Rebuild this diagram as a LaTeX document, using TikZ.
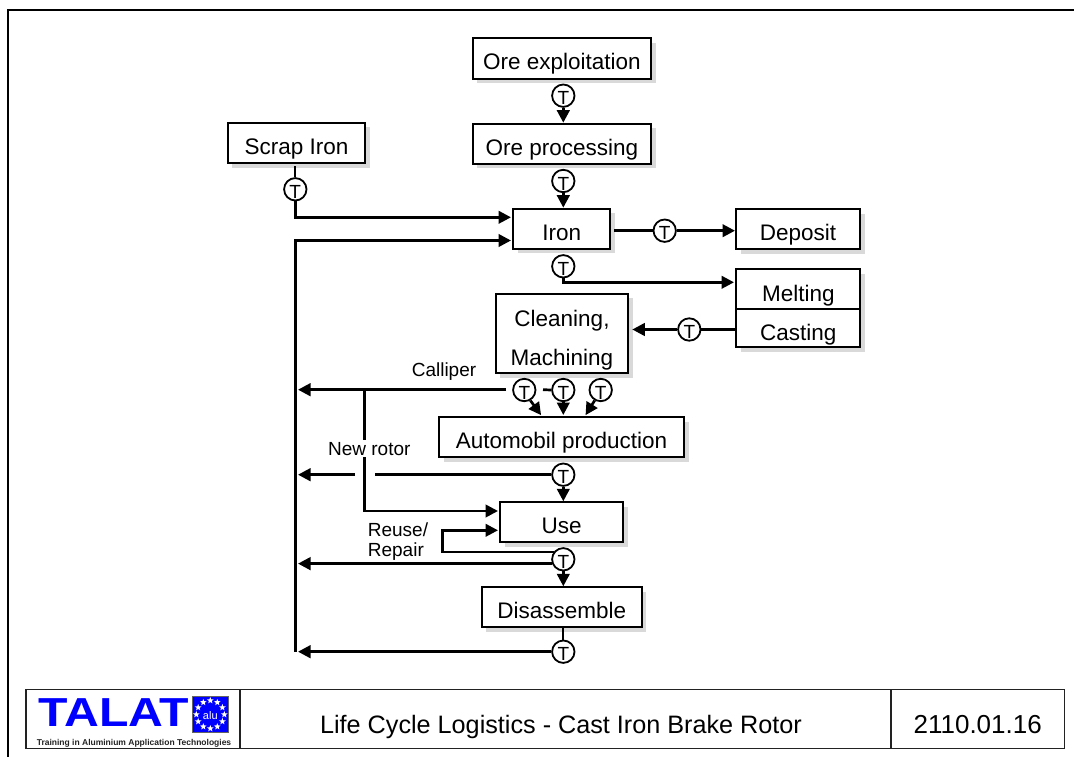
\documentclass[tikz,border=0pt]{standalone}
\usepackage{fontspec}
\usepackage{graphicx}
\setmainfont{Liberation Sans}
\usetikzlibrary{arrows.meta,shadows,shapes.geometric,calc}
\definecolor{shadowgrey}{HTML}{D9D9D9}
\definecolor{talatblue}{HTML}{0000FF}
\definecolor{footline}{HTML}{222222}
\tikzset{
  x=1pt,y=-1pt,
  stagebox/.style n args={2}{draw=black,fill=white,line width=2.2pt,inner sep=0pt,outer sep=0pt,
    minimum width=#1,minimum height=#2,
    font=\fontsize{22.5}{39}\selectfont,text height=23pt,text depth=0pt,
    drop shadow={shadow xshift=4.5pt,shadow yshift=-4.5pt,fill=shadowgrey,opacity=1}},
  transport/.style={circle,draw=black,fill=white,line width=1.8pt,inner sep=0pt,minimum size=22.4pt,
    font=\fontsize{19}{19}\selectfont,text height=18pt,text depth=0pt},
  flow/.style={line width=2.7pt,-{Triangle[length=12.5pt,width=12.5pt]},shorten >=1pt},
  plainflow/.style={line width=2.7pt},
  thinlink/.style={line width=2pt},
  sidelabel/.style={anchor=base,inner sep=0pt,font=\fontsize{19}{19}\selectfont},
  footcell/.style={draw=footline,line width=1.1pt,inner sep=0pt,outer sep=0pt,minimum height=59.3pt,
    text height=29.2pt,text depth=0pt},
  eustar/.style={star,star points=5,star point ratio=2.4,fill=white,inner sep=0pt,minimum size=7pt},
}
\begin{document}
\begin{tikzpicture}
\useasboundingbox (0,0) rectangle (1074,757);
% page frame
\coordinate (frameA) at (8,757);
\coordinate (frameB) at (8,10);
\coordinate (frameC) at (1074,10);
\draw[line width=2.5pt,miter limit=10] (frameA) -- (frameB) -- (frameC);

% stages
\node[stagebox={178.3pt}{40.4pt}] (oreex) at (561.9,58.5) {Ore exploitation};
\node[stagebox={178.3pt}{40pt}] (orepr) at (561.9,143.7) {Ore processing};
\node[stagebox={137.6pt}{40.3pt}] (scrap) at (296.5,142.9) {Scrap Iron};
\node[stagebox={97.3pt}{40pt}] (iron) at (561.7,228.7) {Iron};
\node[stagebox={124pt}{40pt}] (deposit) at (798,229) {Deposit};
\node[stagebox={124pt}{40pt},text height=25pt] (melting) at (798.3,289) {Melting};
\node[stagebox={124pt}{38pt},text height=25pt] (casting) at (798.3,328) {Casting};
\node[stagebox={132.6pt}{79.6pt},align=center,text height=,text depth=] (cleaning) at (562,333.5)
  {\rule{0pt}{30pt}Cleaning,\\Machining};
\node[stagebox={245pt}{40pt}] (auto) at (561.5,437.3) {Automobil production};
\node[stagebox={123.3pt}{40pt}] (use) at (561.7,522.3) {Use};
\node[stagebox={160pt}{40pt}] (disas) at (561.7,607.3) {Disassemble};

% transport markers
\node[transport] (tA) at (563.3,95.7) {T};
\node[transport] (tB) at (563.3,181) {T};
\node[transport] (tC) at (295.3,189.3) {T};
\node[transport] (tD) at (664.7,230.7) {T};
\node[transport] (tE) at (563.3,266.3) {T};
\node[transport] (tF) at (689.3,329.5) {T};
\node[transport] (tG) at (524.3,390) {T};
\node[transport] (tH) at (563.3,390) {T};
\node[transport] (tI) at (600.7,390) {T};
\node[transport] (tJ) at (563.3,474.7) {T};
\node[transport] (tK) at (563.3,559.3) {T};
\node[transport] (tL) at (563.3,651.7) {T};

% free ends
\coordinate (retEnd) at (297,400);
\coordinate (retTop) at (295.5,240.5);
\coordinate (retBot) at (295.5,651.7);
\coordinate (ironInA) at (512,217.3);
\coordinate (ironInB) at (512,240.5);
\coordinate (meltIn) at (735,282.3);
\coordinate (autoInA) at (541.7,416);
\coordinate (autoInB) at (563.3,416);
\coordinate (autoInC) at (585,416);
\coordinate (callStart) at (506,389.7);
\coordinate (callEnd) at (297,389.7);
\coordinate (dashStart) at (543,389.7);
\coordinate (rotorTop) at (364.7,389.7);
\coordinate (rotorBend) at (364.7,511);
\coordinate (useInA) at (499,511);
\coordinate (useInB) at (499,530.3);
\coordinate (loopX) at (442.3,530.3);
\coordinate (gapR) at (375,474.7);
\coordinate (gapL) at (355,474.7);
\coordinate (ironOut) at (614,230.7);

% connectors
\draw[flow] (tA.south) -- (tA.south |- orepr.north);
\draw[flow] (tB.south) -- (tB.south |- iron.north);
\draw[thinlink] (tC.north) -- ++(0,-11);
\draw[flow] (tC.south) |- (ironInA);
\draw[flow] (retBot) -- (retTop) -- (ironInB);
\draw[plainflow] (ironOut) -- (tD.west);
\draw[flow] (tD.east) -- (tD.east -| deposit.west);
\draw[flow] (tE.south) |- (meltIn);
\draw[plainflow] (casting.west |- tF) -- (tF.east);
\draw[flow,shorten >=4pt] (tF.west) -- (cleaning.east |- tF);
\draw[flow] (callStart) -- (callEnd);
\draw[plainflow] (dashStart) -- (tH.west);
\draw[flow] (tG.-60) -- (autoInA);
\draw[flow] (tH.south) -- (autoInB);
\draw[flow] (tI.-120) -- (autoInC);
\draw[flow] (rotorTop) -- (rotorBend) -- (useInA);
\draw[plainflow] (tJ.west) -- (gapR);
\draw[flow] (gapL) -- (gapL -| retEnd);
\draw[flow] (tJ.south) -- (tJ.south |- use.north);
\draw[flow] (tK.143) -- (tK.143 -| loopX) -- (loopX) -- (useInB);
\draw[flow] (tK.201) -- (tK.201 -| retEnd);
\draw[flow] (tK.south) -- (tK.south |- disas.north);
\draw[thinlink] (tL.north |- disas.south) -- (tL.north);
\draw[flow] (tL.west) -- (tL.west -| retEnd);

% side labels
\node[sidelabel] (lCal) at (444,376.7) {Calliper};
\node[sidelabel,fill=white,text depth=0pt,inner ysep=2pt] (lNew) at (369.3,455) {New rotor};
\node[sidelabel,anchor=base west] (lReu) at (367.7,536.7) {Reuse/};
\node[sidelabel,anchor=base west] (lRep) at (367.7,556.7) {Repair};

% footer
\node[footcell,minimum width=214pt] (fLogo) at (133,718.7) {};
\node[footcell,minimum width=651pt] (fTitle) at (565.5,718.7)
  {\fontsize{25.2}{25.2}\selectfont Life Cycle Logistics - Cast Iron Brake Rotor\kern9pt\relax};
\node[footcell,minimum width=173.3pt] (fCode) at (977.7,718.7)
  {\fontsize{26}{26}\selectfont 2110.01.16};
\node[anchor=base,inner sep=0pt,text=talatblue,font=\bfseries\fontsize{40.5}{40.5}\selectfont] (talat) at (114,726.7)
  {\scalebox{1.19}[1]{TALAT}};
\node[anchor=base,inner sep=0pt,text=footline,font=\bfseries\fontsize{8.5}{8.5}\selectfont] (tagline) at (134,745)
  {Training in Aluminium Application Technologies};
\node[draw=footline!70,fill=talatblue,line width=0.7pt,minimum width=36pt,minimum height=35.6pt,inner sep=0pt] (flag) at (210.3,714.5) {};
\foreach \i in {1,...,12}{
  \node[eustar] (star\i) at ($(flag.center)+(30*\i:14pt)$) {};
}
\node[text=white,inner sep=0pt,font=\fontsize{11}{11}\selectfont] (alu) at (210.3,716) {alu};
\end{tikzpicture}
\end{document}
